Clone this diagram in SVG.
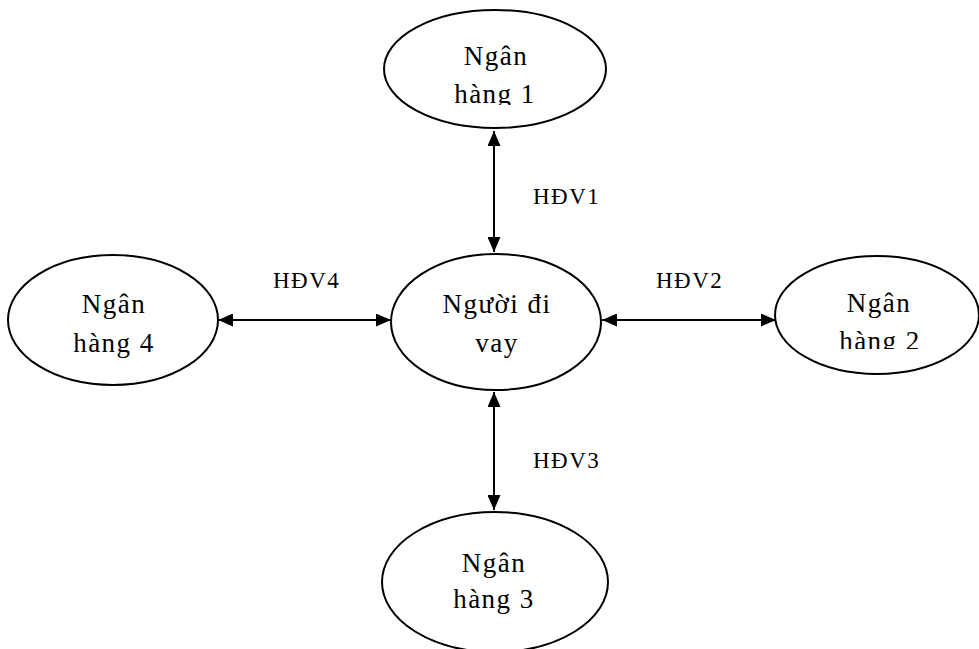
<svg xmlns="http://www.w3.org/2000/svg" width="979" height="649" viewBox="0 0 979 649">
<style>
.n ellipse{fill:#fff;stroke:#000;stroke-width:2}
.t{font-family:"Liberation Serif","Times New Roman",serif;font-size:27px;letter-spacing:1.5px;fill:#000;text-anchor:middle}
.l{font-family:"Liberation Serif","Times New Roman",serif;font-size:23px;letter-spacing:1.5px;fill:#000}
.c line{stroke:#000;stroke-width:2;marker-start:url(#a);marker-end:url(#a)}
</style>
<defs>
<marker id="a" viewBox="0 0 15 13" refX="15" refY="6.5" markerWidth="15" markerHeight="13" markerUnits="userSpaceOnUse" orient="auto-start-reverse">
<path d="M0,0L15,6.5L0,13z" fill="#000"/>
</marker>
<clipPath id="c1"><rect x="0" y="0" width="979" height="105"/></clipPath>
<clipPath id="c2"><rect x="0" y="0" width="979" height="349"/></clipPath>
</defs>
<rect width="979" height="649" fill="#fff"/>
<g class="c" id="connectors">
<line x1="494" y1="131" x2="494" y2="252"/>
<line x1="218" y1="320" x2="391" y2="320"/>
<line x1="602" y1="320" x2="776" y2="320"/>
<line x1="494" y1="392" x2="494" y2="510"/>
</g>
<g id="bank1" class="n">
<ellipse cx="495" cy="69" rx="111" ry="59"/>
<g clip-path="url(#c1)"><text class="t" x="496" y="65">Ngân</text><text class="t" x="495" y="103">hàng 1</text></g>
</g>
<g id="borrower" class="n">
<ellipse cx="496" cy="322" rx="105" ry="68"/>
<text class="t" x="497" y="313">Người đi</text><text class="t" x="497" y="352">vay</text>
</g>
<g id="bank4" class="n">
<ellipse cx="113" cy="320" rx="105" ry="65"/>
<text class="t" x="114" y="313">Ngân</text><text class="t" x="114" y="352">hàng 4</text>
</g>
<g id="bank2" class="n">
<ellipse cx="877" cy="315" rx="102" ry="59"/>
<g clip-path="url(#c2)"><text class="t" x="879" y="312">Ngân</text><text class="t" x="880" y="350">hàng 2</text></g>
</g>
<g id="bank3" class="n">
<ellipse cx="495" cy="582" rx="113" ry="70"/>
<text class="t" x="494" y="572">Ngân</text><text class="t" x="494" y="608">hàng 3</text>
</g>
<g id="labels">
<text class="l" x="533" y="204">HĐV1</text>
<text class="l" x="656" y="288">HĐV2</text>
<text class="l" x="533" y="468">HĐV3</text>
<text class="l" x="273" y="288">HĐV4</text>
</g>
</svg>
